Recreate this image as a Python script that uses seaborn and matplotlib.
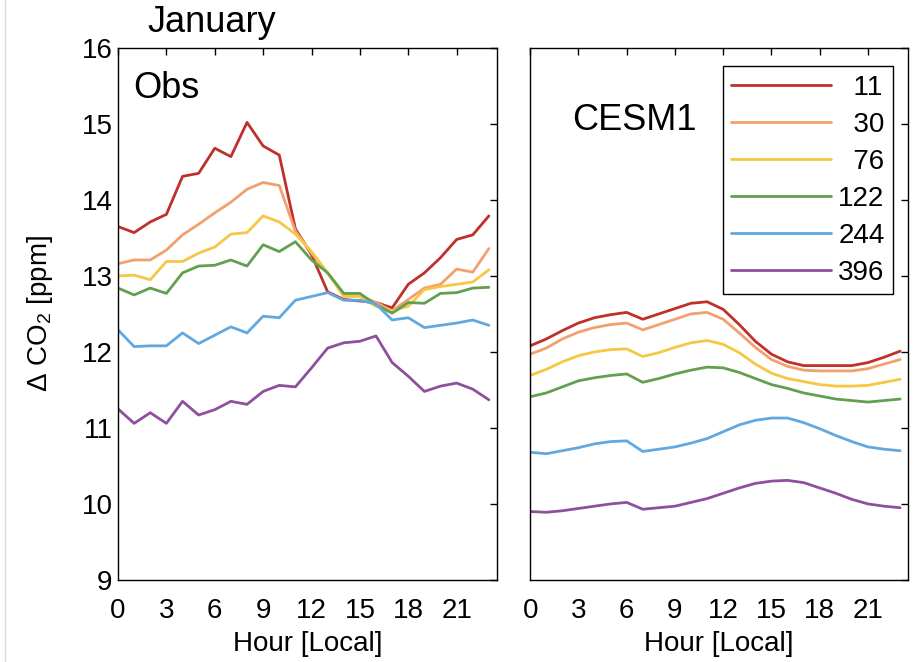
import matplotlib
matplotlib.use("Agg")
import matplotlib.pyplot as plt
from matplotlib.lines import Line2D
import seaborn as sns
import pandas as pd

# Local hour of day
hours = list(range(24))

# Sampling heights (m) used as series labels
heights = ["11", "30", "76", "122", "244", "396"]

# Observed January diurnal cycle of delta CO2 (ppm)
obs_11 = [13.65, 13.57, 13.71, 13.81, 14.31, 14.35, 14.68, 14.57, 15.02, 14.71, 14.59, 13.62,
          13.28, 12.79, 12.69, 12.67, 12.65, 12.58, 12.89, 13.04, 13.24, 13.48, 13.54, 13.79]
obs_30 = [13.16, 13.21, 13.21, 13.34, 13.54, 13.68, 13.83, 13.97, 14.14, 14.23, 14.19, 13.59,
          13.30, 13.04, 12.76, 12.74, 12.65, 12.54, 12.69, 12.84, 12.89, 13.09, 13.05, 13.36]
obs_76 = [13.00, 13.01, 12.95, 13.19, 13.19, 13.30, 13.38, 13.55, 13.57, 13.79, 13.71, 13.55,
          13.32, 13.04, 12.73, 12.73, 12.60, 12.54, 12.60, 12.82, 12.86, 12.89, 12.92, 13.08]
obs_122 = [12.84, 12.75, 12.84, 12.77, 13.04, 13.13, 13.14, 13.21, 13.13, 13.41, 13.32, 13.45,
           13.21, 13.04, 12.77, 12.77, 12.62, 12.51, 12.65, 12.64, 12.77, 12.78, 12.84, 12.85]
obs_244 = [12.29, 12.07, 12.08, 12.08, 12.25, 12.11, 12.22, 12.33, 12.25, 12.47, 12.45, 12.68,
           12.73, 12.78, 12.68, 12.68, 12.63, 12.42, 12.45, 12.32, 12.35, 12.38, 12.42, 12.35]
obs_396 = [11.25, 11.06, 11.20, 11.06, 11.35, 11.17, 11.24, 11.35, 11.31, 11.48, 11.56, 11.54,
           11.79, 12.05, 12.12, 12.14, 12.21, 11.86, 11.68, 11.48, 11.55, 11.59, 11.51, 11.37]

# CESM1 simulated January diurnal cycle of delta CO2 (ppm)
cesm_11 = [12.08, 12.17, 12.28, 12.38, 12.45, 12.49, 12.52, 12.43, 12.50, 12.57, 12.64, 12.66,
           12.56, 12.36, 12.14, 11.97, 11.87, 11.82, 11.82, 11.82, 11.82, 11.86, 11.93, 12.01]
cesm_30 = [11.97, 12.05, 12.17, 12.26, 12.32, 12.36, 12.38, 12.29, 12.36, 12.43, 12.50, 12.52,
           12.43, 12.25, 12.06, 11.90, 11.81, 11.76, 11.75, 11.75, 11.75, 11.78, 11.84, 11.90]
cesm_76 = [11.69, 11.77, 11.87, 11.95, 12.00, 12.03, 12.04, 11.94, 11.99, 12.06, 12.12, 12.15,
           12.10, 11.99, 11.84, 11.72, 11.65, 11.61, 11.57, 11.55, 11.55, 11.56, 11.60, 11.64]
cesm_122 = [11.41, 11.46, 11.54, 11.62, 11.66, 11.69, 11.71, 11.60, 11.65, 11.71, 11.76, 11.80,
            11.79, 11.73, 11.65, 11.57, 11.52, 11.46, 11.42, 11.38, 11.36, 11.34, 11.36, 11.38]
cesm_244 = [10.68, 10.66, 10.70, 10.74, 10.79, 10.82, 10.83, 10.69, 10.72, 10.75, 10.80, 10.86,
            10.95, 11.04, 11.10, 11.13, 11.13, 11.07, 10.99, 10.90, 10.82, 10.75, 10.72, 10.70]
cesm_396 = [9.90, 9.89, 9.91, 9.94, 9.97, 10.00, 10.02, 9.93, 9.95, 9.97, 10.02, 10.07,
            10.14, 10.21, 10.27, 10.30, 10.31, 10.28, 10.21, 10.14, 10.06, 10.00, 9.97, 9.95]

colors = ["#C0302A", "#F2A06E", "#F6C744", "#62A04F", "#62A8DE", "#8E509C"]

x_ticks = [0, 3, 6, 9, 12, 15, 18, 21]
y_ticks = [9, 10, 11, 12, 13, 14, 15, 16]


def long_frame(series):
    rows = []
    for label, values in zip(heights, series):
        for h, v in zip(hours, values):
            rows.append({"hour": h, "co2": v, "height": label})
    return pd.DataFrame(rows)


obs_df = long_frame([obs_11, obs_30, obs_76, obs_122, obs_244, obs_396])
cesm_df = long_frame([cesm_11, cesm_30, cesm_76, cesm_122, cesm_244, cesm_396])

sns.set_style("white")
plt.rcParams["font.family"] = ["Liberation Sans", "DejaVu Sans"]
plt.rcParams["mathtext.fontset"] = "custom"
plt.rcParams["mathtext.rm"] = "Liberation Sans"
plt.rcParams["text.color"] = "black"
plt.rcParams["axes.labelcolor"] = "black"
plt.rcParams["xtick.color"] = "black"
plt.rcParams["ytick.color"] = "black"

fig = plt.figure(figsize=(9.22, 6.62), dpi=100)
ax_obs = fig.add_axes([0.128, 0.124, 0.411, 0.8036])
ax_mod = fig.add_axes([0.575, 0.124, 0.410, 0.8036])

# faint page edge on the left
fig.add_artist(Line2D([0.005, 0.005], [0.0, 1.0], transform=fig.transFigure,
                      color="#dddddd", linewidth=1.0))

palette = dict(zip(heights, colors))
sns.lineplot(data=obs_df, x="hour", y="co2", hue="height", hue_order=heights,
             palette=palette, linewidth=2.0, ax=ax_obs, legend=False)
sns.lineplot(data=cesm_df, x="hour", y="co2", hue="height", hue_order=heights,
             palette=palette, linewidth=2.0, ax=ax_mod)

for ax in (ax_obs, ax_mod):
    ax.set_xlim(0, 23.5)
    ax.set_ylim(9, 16)
    ax.set_xticks(x_ticks)
    ax.set_yticks(y_ticks)
    ax.tick_params(direction="in", length=5, width=1, top=True, right=True,
                   labelsize=20, colors="black")
    ax.tick_params(axis="y", pad=4)
    ax.tick_params(axis="x", pad=13)
    for s in ax.spines.values():
        s.set_visible(True)
        s.set_color("black")
        s.set_linewidth(1.0)
    ax.set_xlabel("Hour [Local]", fontsize=20, labelpad=5)

ax_obs.set_ylabel(r"$\Delta$ CO$_2$ [ppm]", fontsize=20, labelpad=19)
ax_mod.set_ylabel("")
ax_mod.tick_params(labelleft=False)

ax_obs.text(0.04, 0.905, "Obs", transform=ax_obs.transAxes, fontsize=26, ha="left", va="baseline")
ax_mod.text(0.112, 0.845, "CESM1", transform=ax_mod.transAxes, fontsize=26, ha="left", va="baseline")
fig.text(0.16, 0.952, "January", fontsize=26, ha="left", va="baseline")

handles, _ = ax_mod.get_legend_handles_labels()
leg_labels = [("\u2007" * (3 - len(h))) + h for h in heights]
leg = ax_mod.legend(handles, leg_labels, loc="upper right",
                    bbox_to_anchor=(0.9685, 0.9), bbox_transform=fig.transFigure,
                    borderaxespad=0, fontsize=20, frameon=True, fancybox=False,
                    edgecolor="black", framealpha=1, handlelength=3.6,
                    handletextpad=0.25, labelspacing=0.4, borderpad=0.3)
leg.get_frame().set_linewidth(1.0)

fig.savefig("out.png", dpi=100)
